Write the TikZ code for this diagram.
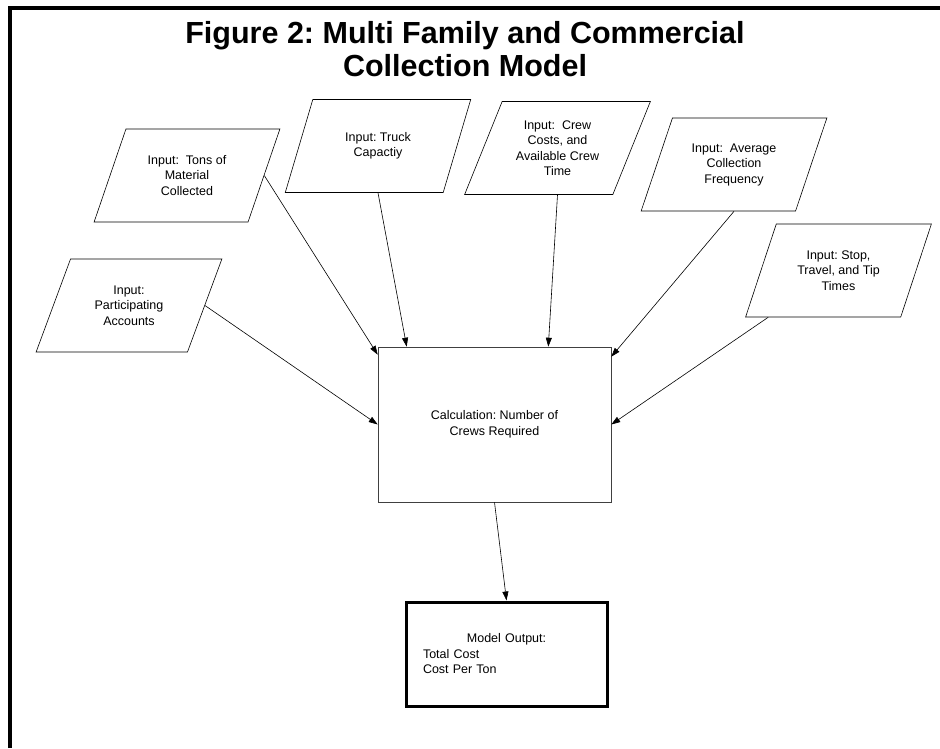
\documentclass[tikz,border=0pt]{standalone}
\usepackage{fontspec}
\setmainfont{Liberation Sans}
\usetikzlibrary{arrows.meta,shapes.geometric,positioning}
\tikzstyle{input}=[trapezium,trapezium left angle=63,trapezium right angle=117,
  trapezium stretches=true,draw,minimum width=186pt,minimum height=93pt,
  inner sep=0pt,align=center,font=\fontsize{12.5}{15.5}\selectfont]
\tikzstyle{calcbox}=[rectangle,draw=black!75,minimum width=233pt,minimum height=155pt,
  align=center,font=\fontsize{12.5}{15.5}\selectfont]
\tikzstyle{outbox}=[rectangle,draw,line width=3pt,minimum width=201pt,minimum height=104pt,
  text width=167pt,inner xsep=17pt,font=\fontsize{12.5}{15.5}\selectfont]
\tikzstyle{heading}=[inner sep=0pt,align=center,font=\fontsize{30.5}{33}\selectfont\bfseries]
\frenchspacing

\begin{document}
\begin{tikzpicture}[x=1pt,y=1pt,->,>={Triangle[length=9pt,width=6pt]},semithick]
    \useasboundingbox (0,0) rectangle (940,-748);
    \draw[-,line width=4pt] (10,-748) -- (10,-8) -- (940,-8);

    \node[heading] (title) at (465,-49.5) {Figure 2: Multi Family and Commercial\\Collection Model};

    \node[input] (tons)     at (187,-175.5)   {Input:\ \ Tons of\\Material\\Collected};
    \node[input] (truck)    at (378,-146)     {Input: Truck\\Capactiy};
    \node[input] (crew)     at (557.5,-148)   {Input:\ \ Crew\\Costs, and\\Available Crew\\Time};
    \node[input] (freq)     at (734,-164.5)   {Input:\ \ Average\\Collection\\Frequency};
    \node[input] (stops)    at (838.5,-270.5) {Input: Stop,\\Travel, and Tip\\Times};
    \node[input] (accounts) at (129,-305.5)   {Input:\\Participating\\Accounts};

    \node[calcbox] (calc) at (494.5,-424.5) {Calculation: Number of\\Crews Required};
    \node[outbox]  (out)  at (506.5,-654)   {\centering Model Output:\par\raggedright Total Cost\\Cost Per Ton};

    \path (tons.right side) edge ([yshift=-8pt]calc.north west)
    (truck.south) edge ([xshift=29pt]calc.north west)
    (crew.south) edge ([xshift=-63pt]calc.north east)
    (freq.south) edge ([yshift=-10pt]calc.north east);

    \path ([xshift=23pt]stops.bottom left corner) edge (calc.east)
    (accounts.right side) edge (calc.west)
    (calc.south) edge (out.north);

\end{tikzpicture}
\end{document}
